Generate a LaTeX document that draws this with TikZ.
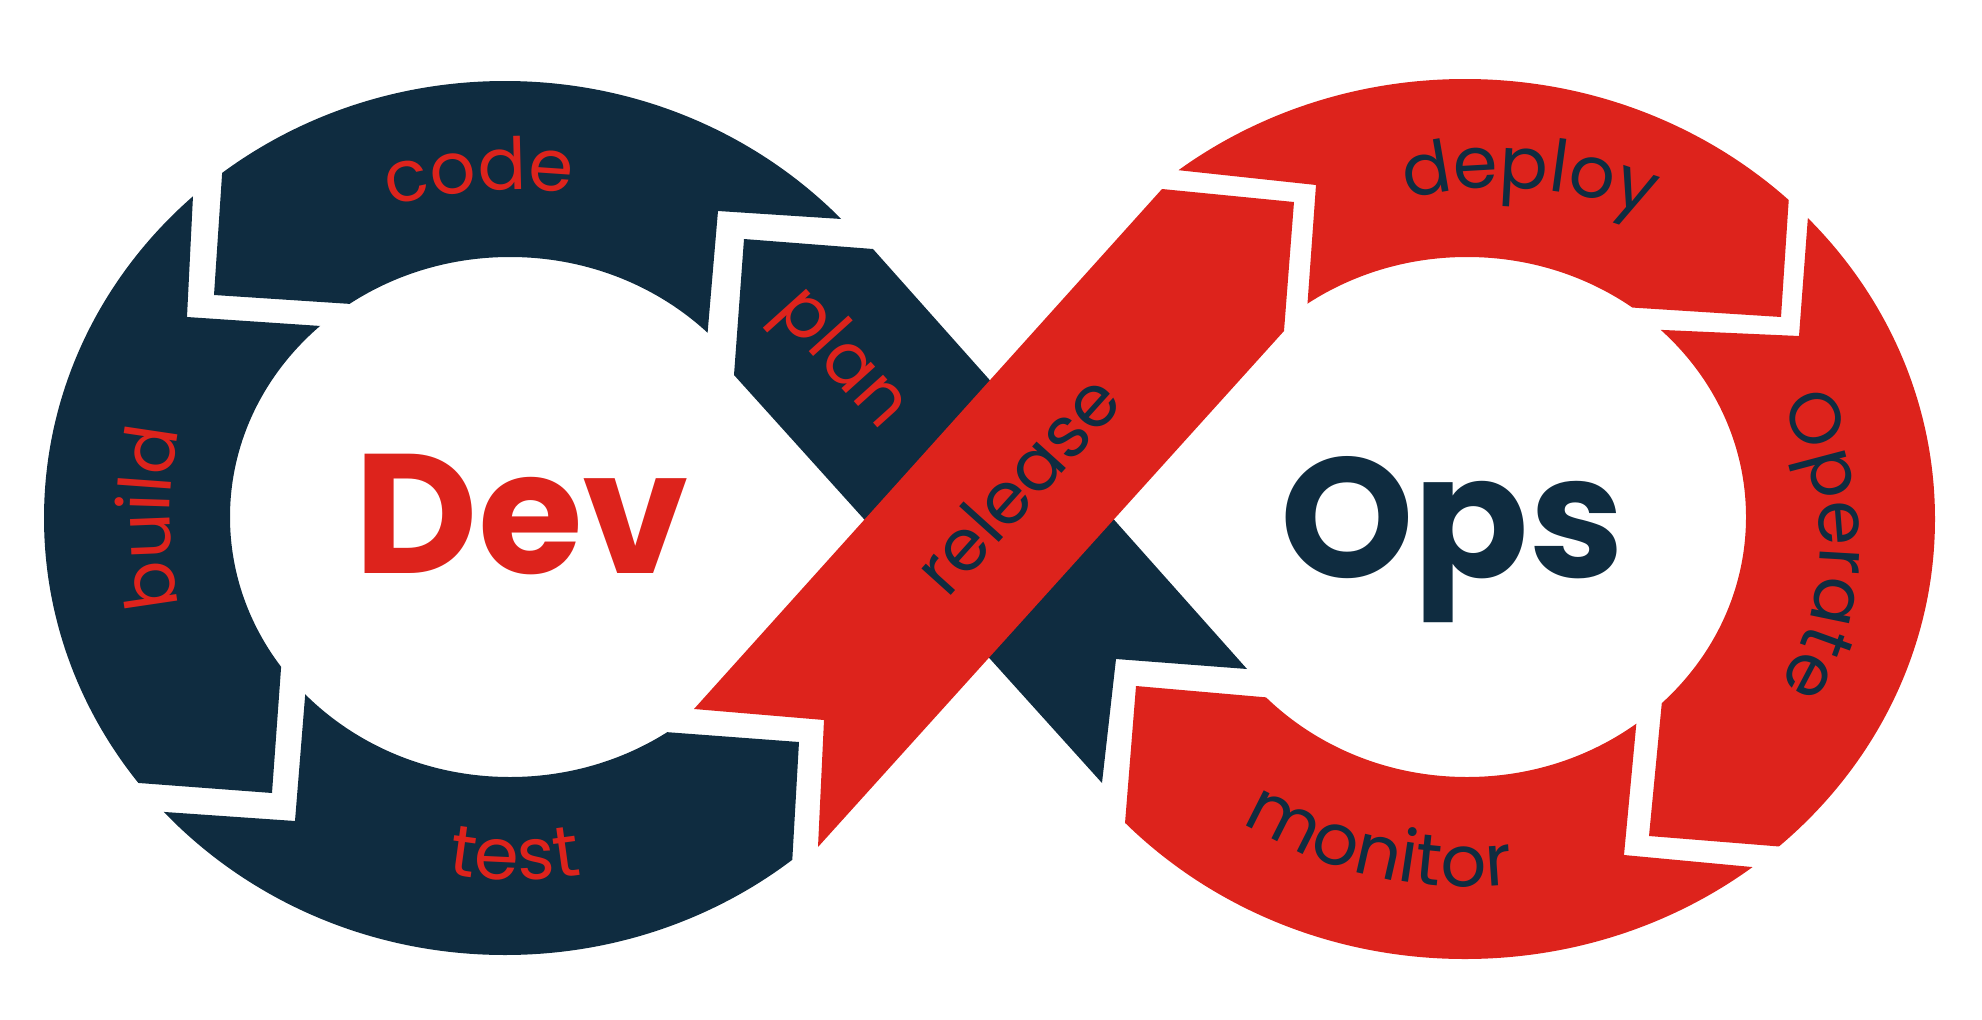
\documentclass[tikz,border=0pt]{standalone}
\usepackage{fontspec}
\setmainfont{Poppins}
\usetikzlibrary{decorations.text}
\definecolor{navy}{RGB}{15,44,64}
\definecolor{devred}{RGB}{221,35,28}
\newcommand\lblfont{\fontsize{72}{80}\selectfont}
\newcommand\logofont{\fontsize{170}{180}\selectfont\bfseries}

\begin{document}
\begin{tikzpicture}[x=1pt, y=-1pt,
  devpart/.style={fill=navy},
  opspart/.style={fill=devred},
  devring/.style={insert path={(505,518) ellipse [x radius=461, y radius=437]
                               (510,517) ellipse [x radius=280, y radius=260]}},
  opsring/.style={insert path={(1465,519) ellipse [x radius=470, y radius=440]
                               (1467,517) ellipse [x radius=279, y radius=260]}},
  ringlabel/.style={decorate, decoration={text along path, text align=center, text={#1}}},
  word/.style={font=\lblfont, inner sep=0pt},
  logo/.style={font=\logofont, inner sep=0pt, anchor=base},
]
  \useasboundingbox (0,0) rectangle (1982,1020);

  % Dev loop: code, build, test
  \begin{scope}
    \clip (214,295) -- (230,55) -- (230,-50) -- (980,-50) -- (980,228) -- (718,211) -- (698,445) -- (443,310) -- cycle;
    \fill[devpart, even odd rule, devring];
  \end{scope}
  \begin{scope}
    \clip (187,317) -- (199,75) -- (-20,75) -- (-20,1000) -- (6,773) -- (272,793) -- (288,572) -- (425,333) -- cycle;
    \fill[devpart, even odd rule, devring];
  \end{scope}
  \begin{scope}
    \clip (295,821) -- (35,803) -- (35,1060) -- (800,1060) -- (785,988) -- (799,742) -- (558,724) -- (313,598) -- cycle;
    \fill[devpart, even odd rule, devring];
  \end{scope}

  % plan band, then release band on top
  \fill[devpart] (744,239) -- (873,249) -- (1247,669) -- (1116,659) -- (1102,783) -- (734,375) -- cycle;
  \fill[opspart] (694,709) -- (824,720) -- (818,847) -- (1284,331) -- (1294,202) -- (1162,189) -- cycle;

  % Ops loop: deploy, operate, monitor
  \begin{scope}
    \clip (1316,185) -- (1056,157) -- (1056,-50) -- (1805,-46) -- (1781,317) -- (1529,301) -- (1300,408) -- cycle;
    \fill[opspart, even odd rule, opsring];
  \end{scope}
  \begin{scope}
    \clip (1799,336) -- (1821,43) -- (2050,43) -- (2050,1000) -- (1984,863) -- (1649,836) -- (1672,597) -- (1551,325) -- cycle;
    \fill[opspart, even odd rule, opsring];
  \end{scope}
  \begin{scope}
    \clip (1624,855) -- (1880,879) -- (1880,1060) -- (1100,1060) -- (1111,998) -- (1136,686) -- (1388,708) -- (1646,621) -- cycle;
    \fill[opspart, even odd rule, opsring];
  \end{scope}

  % ring labels
  \path[ringlabel={|\lblfont\color{devred}|code}, shift={(515,690)}] (-114:500) arc[start angle=-114, end angle=-74, radius=500];
  \path[ringlabel={|\lblfont\color{devred}|build}, shift={(610,518)}] (155:440) arc[start angle=155, end angle=205, radius=440];
  \path[ringlabel={|\lblfont\color{devred}|test}, shift={(515,480)}] (112:400) arc[start angle=112, end angle=68, radius=400];
  \path[ringlabel={|\lblfont\color{navy}|deploy}, shift={(1500,598)}] (-110:410) arc[start angle=-110, end angle=-62, radius=410];
  \path[ringlabel={|\lblfont\color{navy}|Operate}, shift={(1560,545)}] (-40:260) arc[start angle=-40, end angle=40, radius=260];
  \path[ringlabel={|\lblfont\color{navy}|monitor}, shift={(1470,452)}] (129:435) arc[start angle=129, end angle=77, radius=435];

  % band labels
  \node[word, text=devred, rotate=-48] (plan) at (840,360) {plan};
  \node[word, text=navy, rotate=48] (release) at (1017,484) {release};

  % centre words
  \node[logo, text=devred] (dev) at (522,573) {Dev};
  \node[logo, text=navy] (ops) at (1452,577) {Ops};
\end{tikzpicture}
\end{document}
